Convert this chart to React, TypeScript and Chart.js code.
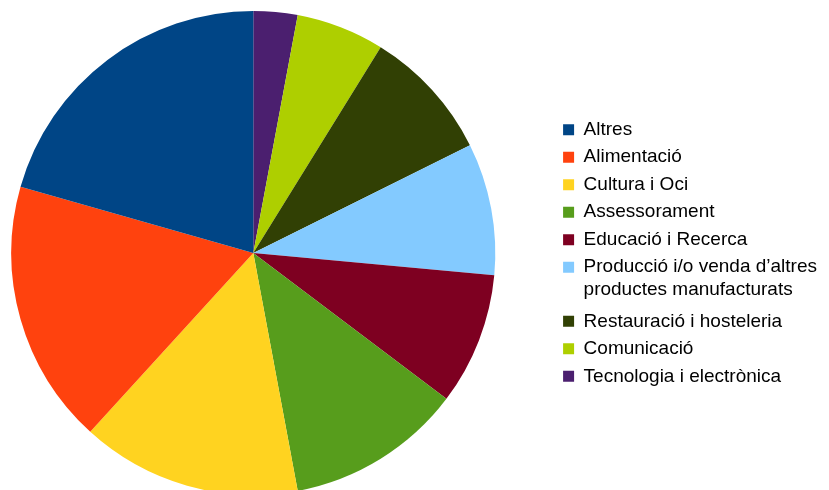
import React, { useEffect, useRef } from "react";
import { Chart, registerables } from "chart.js";

Chart.register(...registerables);

// Legend order (as shown in the reference)
const categories: (string | string[])[] = [
  "Altres",
  "Alimentació",
  "Cultura i Oci",
  "Assessorament",
  "Educació i Recerca",
  ["Producció i/o venda d’altres", "productes manufacturats"],
  "Restauració i hosteleria",
  "Comunicació",
  "Tecnologia i electrònica",
];
const counts: number[] = [7, 6, 5, 4, 3, 3, 3, 2, 1];
const colors: string[] = [
  "#004586",
  "#ff420e",
  "#ffd320",
  "#579d1c",
  "#7e0021",
  "#83caff",
  "#314004",
  "#aecf00",
  "#4b1f6f",
];

export default function App() {
  const ref = useRef<HTMLCanvasElement | null>(null);

  useEffect(() => {
    document.body.style.margin = "0";
    document.body.style.overflow = "hidden";
    const canvas = ref.current;
    if (!canvas) return;
    // The reference is drawn counter-clockwise; Chart.js draws clockwise,
    // so the data are reversed and the legend is reversed back.
    const labels = [...categories].reverse();
    const values = [...counts].reverse();
    const bg = [...colors].reverse();
    const chart = new Chart(canvas, {
      type: "pie",
      data: {
        labels: labels as any,
        datasets: [
          {
            data: values,
            backgroundColor: bg,
            borderWidth: 0,
            hoverOffset: 0,
            offset: 0,
          },
        ],
      },
      options: {
        responsive: false,
        animation: false,
        layout: { padding: { top: 11, bottom: 11, left: 0, right: 0 } },
        plugins: {
          tooltip: { enabled: false },
          legend: {
            position: "right",
            reverse: true,
            labels: {
              boxWidth: 11,
              boxHeight: 11,
              padding: 8.5,
              color: "#000000",
              textAlign: "left",
              font: { family: "'Liberation Sans', Arial, sans-serif", size: 19, lineHeight: 1.2 },
            },
          },
        },
      },
    });
    return () => chart.destroy();
  }, []);

  return (
    <div
      style={{
        position: "fixed",
        left: 0,
        top: 0,
        width: 829,
        height: 490,
        overflow: "hidden",
        background: "#ffffff",
      }}
    >
      <canvas
        ref={ref}
        width={875}
        height={506}
        style={{ position: "absolute", left: -48, top: 0, width: 875, height: 506 }}
      />
    </div>
  );
}
